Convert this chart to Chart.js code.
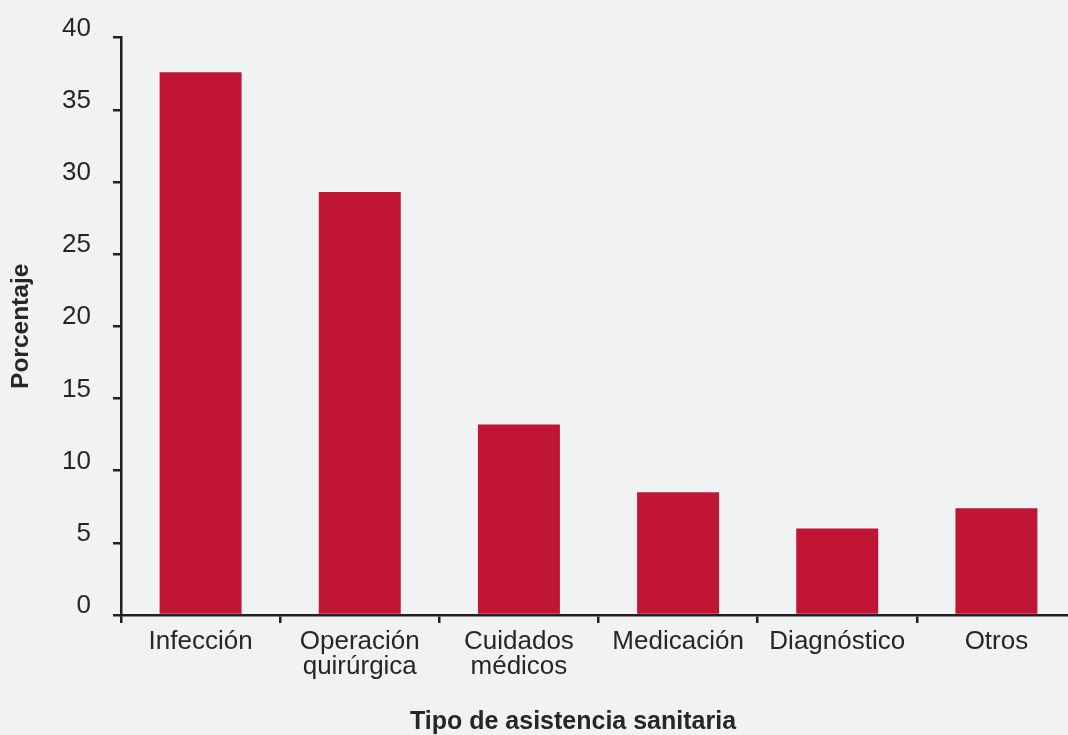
<!DOCTYPE html>
<html>
<head>
<meta charset="utf-8">
<script src="https://cdn.jsdelivr.net/npm/chart.js@4/dist/chart.umd.min.js"></script>
<style>
  html, body { margin: 0; padding: 0; background: #f1f2f4; overflow: hidden; }
  #wrap { width: 1068px; height: 735px; overflow: hidden; position: relative; }
  canvas { display: block; }
</style>
</head>
<body>
<div id="wrap"><canvas id="c" width="1080" height="735"></canvas></div>
<script>
const categories = ["Infección", ["Operación", "quirúrgica"], ["Cuidados", "médicos"], "Medicación", "Diagnóstico", "Otros"];
const values = [37.6, 29.3, 13.2, 8.5, 6.0, 7.4];
const yTicks = [0, 5, 10, 15, 20, 25, 30, 35, 40];
const xTitle = "Tipo de asistencia sanitaria";
const yTitle = "Porcentaje";

const INK = '#231f20';
const TEXT = '#262626';
const FONT = "'Liberation Sans', Arial, Helvetica, sans-serif";

const xTitlePlugin = {
  id: 'xTitlePlugin',
  afterDraw(chart) {
    const ctx = chart.ctx;
    ctx.save();
    ctx.font = "bold 25px " + FONT;
    ctx.fillStyle = TEXT;
    ctx.textAlign = 'center';
    ctx.textBaseline = 'alphabetic';
    ctx.fillText(xTitle, 573, 729);
    ctx.restore();
  }
};

new Chart(document.getElementById('c'), {
  type: 'bar',
  data: {
    labels: categories,
    datasets: [{
      data: values,
      backgroundColor: '#c01534',
      borderWidth: 0,
      barPercentage: 0.515,
      categoryPercentage: 1.0
    }]
  },
  options: {
    responsive: false,
    animation: false,
    devicePixelRatio: 1,
    layout: { padding: { top: 36, right: 4, bottom: 0, left: 0 } },
    plugins: {
      legend: { display: false },
      tooltip: { enabled: false }
    },
    scales: {
      x: {
        grid: {
          display: true,
          drawOnChartArea: false,
          drawTicks: true,
          tickLength: 8,
          color: INK,
          lineWidth: 2.5,
          offset: true
        },
        border: { display: true, color: INK, width: 2.5 },
        ticks: {
          color: TEXT,
          font: { family: FONT, size: 26, lineHeight: 0.97 },
          padding: 6,
          maxRotation: 0,
          autoSkip: false
        },
        afterFit(scale) { scale.height = 120; }
      },
      y: {
        min: 0,
        max: 40,
        afterBuildTicks(scale) { scale.ticks = yTicks.map(v => ({ value: v })); },
        grid: {
          display: true,
          drawOnChartArea: false,
          drawTicks: true,
          tickLength: 8,
          color: INK,
          lineWidth: 2.5
        },
        border: { display: true, color: INK, width: 2.5 },
        ticks: {
          color: TEXT,
          font: { family: FONT, size: 26 },
          padding: 22,
          labelOffset: -9
        },
        title: {
          display: true,
          text: yTitle,
          color: TEXT,
          font: { family: FONT, size: 24.5, weight: 'bold', lineHeight: 1.2 },
          padding: { top: 7, bottom: 0 }
        },
        afterFit(scale) { scale.width = 121; }
      }
    }
  },
  plugins: [xTitlePlugin]
});
</script>
</body>
</html>
